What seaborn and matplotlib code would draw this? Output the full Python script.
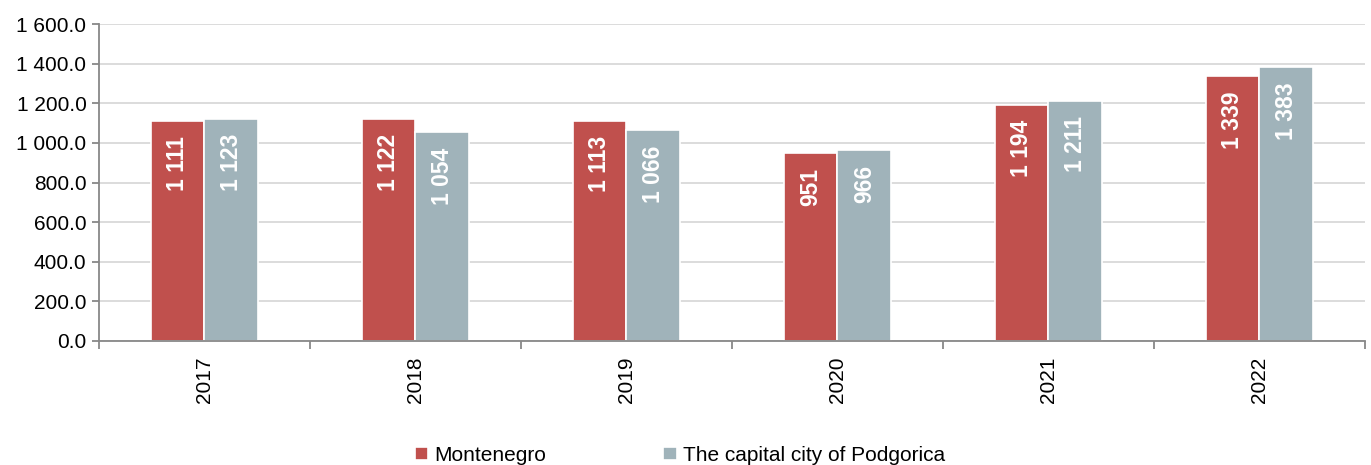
import matplotlib
matplotlib.use("Agg")
import matplotlib.pyplot as plt
import seaborn as sns
import pandas as pd
from matplotlib.ticker import FixedLocator, FuncFormatter

years = ["2017", "2018", "2019", "2020", "2021", "2022"]
montenegro = [1111, 1122, 1113, 951, 1194, 1339]
podgorica = [1123, 1054, 1066, 966, 1211, 1383]
series_names = ["Montenegro", "The capital city of Podgorica"]
colors = ["#C0504D", "#A0B3BA"]

df = pd.DataFrame({
    "year": years * 2,
    "value": montenegro + podgorica,
    "series": [series_names[0]] * len(years) + [series_names[1]] * len(years),
})

sns.set_style("white")
plt.rcParams["font.family"] = ["Liberation Sans", "DejaVu Sans"]

fig = plt.figure(figsize=(13.71, 4.65), dpi=100)
ax = fig.add_axes([0.0722, 0.2667, 0.9234, 0.6813])

sns.barplot(data=df, x="year", y="value", hue="series", palette=colors,
            saturation=1, width=0.51, edgecolor="white", linewidth=1.2, ax=ax, legend=True)

def fmt_int(v):
    return f"{int(round(v)):,}".replace(",", " ")

for cont in ax.containers:
    for bar in cont:
        h = bar.get_height()
        ax.annotate(fmt_int(h), (bar.get_x() + bar.get_width() / 2, h),
                    xytext=(0, -11), textcoords="offset points",
                    ha="center", va="top", rotation=90, color="white",
                    fontsize=16.5, fontweight="bold")

ax.set_ylim(0, 1600)
ax.set_xlim(-0.5, len(years) - 0.5)
ax.yaxis.set_major_locator(FixedLocator(list(range(0, 1601, 200))))
ax.yaxis.set_major_formatter(FuncFormatter(lambda v, p: f"{v:,.1f}".replace(",", " ")))
ax.grid(axis="y", color="#D9D9D9", linewidth=1.3)
ax.set_axisbelow(True)

for s in ["top", "right"]:
    ax.spines[s].set_visible(False)
for s in ["left", "bottom"]:
    ax.spines[s].set_color("#888888")
    ax.spines[s].set_linewidth(1.3)

ax.tick_params(axis="y", which="major", length=5, width=1.3, color="#888888",
               labelsize=15, labelcolor="black", pad=4, left=True)
ax.set_xticks(range(len(years)))
ax.set_xticklabels(years, rotation=90)
ax.tick_params(axis="x", which="major", length=0, labelsize=15, labelcolor="black", pad=11)
ax.set_xticks([i - 0.5 for i in range(len(years) + 1)], minor=True)
ax.tick_params(axis="x", which="minor", length=6, width=1.3, color="#888888", bottom=True)

ax.set_xlabel("")
ax.set_ylabel("")

handles, labels = ax.get_legend_handles_labels()
ax.legend_.remove()
fig.legend(handles, labels, loc="lower center", bbox_to_anchor=(0.496, -0.04), ncol=2,
           frameon=False, fontsize=15, labelcolor="black", handlelength=0.65, handleheight=0.65,
           handletextpad=0.3, columnspacing=5.6)

fig.savefig("out.png", dpi=100)
